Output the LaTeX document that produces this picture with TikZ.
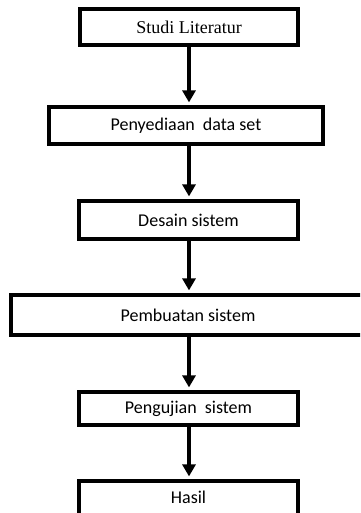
\documentclass[tikz,border=0pt]{standalone}
\usepackage{fontspec}
\setmainfont{Carlito}
\newfontfamily\timesfont{Liberation Serif}
\usetikzlibrary{arrows.meta}
\begin{document}
\begin{tikzpicture}[x=1pt,y=-1pt,
  stepbox/.style={draw=black,line width=3.2pt,fill=white,inner sep=0pt,font=\fontsize{18}{20}\selectfont},
  flow/.style={line width=3.5pt,-{Triangle[width=13pt,length=12pt]},shorten >=3pt}]
\useasboundingbox (0,0) rectangle (360,513);
\clip (0,0) rectangle (360,513);
\node[stepbox,minimum width=218pt,minimum height=36pt,font=\timesfont\fontsize{18}{20}\selectfont] (b1) at (189,27) {Studi Literatur};
\node[stepbox,minimum width=274pt,minimum height=37pt] (b2) at (186,125.5) {Penyediaan\ \ data set};
\node[stepbox,minimum width=219pt,minimum height=38pt] (b3) at (188.5,220) {Desain sistem};
\node[stepbox,minimum width=354pt,minimum height=40pt] (b4) at (188,315) {Pembuatan sistem};
\node[stepbox,minimum width=219pt,minimum height=33pt] (b5) at (188.5,408.5) {Pengujian\ \ sistem};
\node[stepbox,minimum width=219pt,minimum height=40pt] (b6) at (188.5,501) {};
\node[font=\fontsize{18}{20}\selectfont] (t6) at (188.5,497) {Hasil};
\draw[flow] (b1.south) -- (b1.south |- b2.north);
\draw[flow] (b2.south -| b1) -- (b3.north -| b1);
\draw[flow] (b3.south -| b1) -- (b4.north -| b1);
\draw[flow] (b4.south -| b1) -- (b5.north -| b1);
\draw[flow] (b5.south -| b1) -- (b6.north -| b1);
\end{tikzpicture}
\end{document}
